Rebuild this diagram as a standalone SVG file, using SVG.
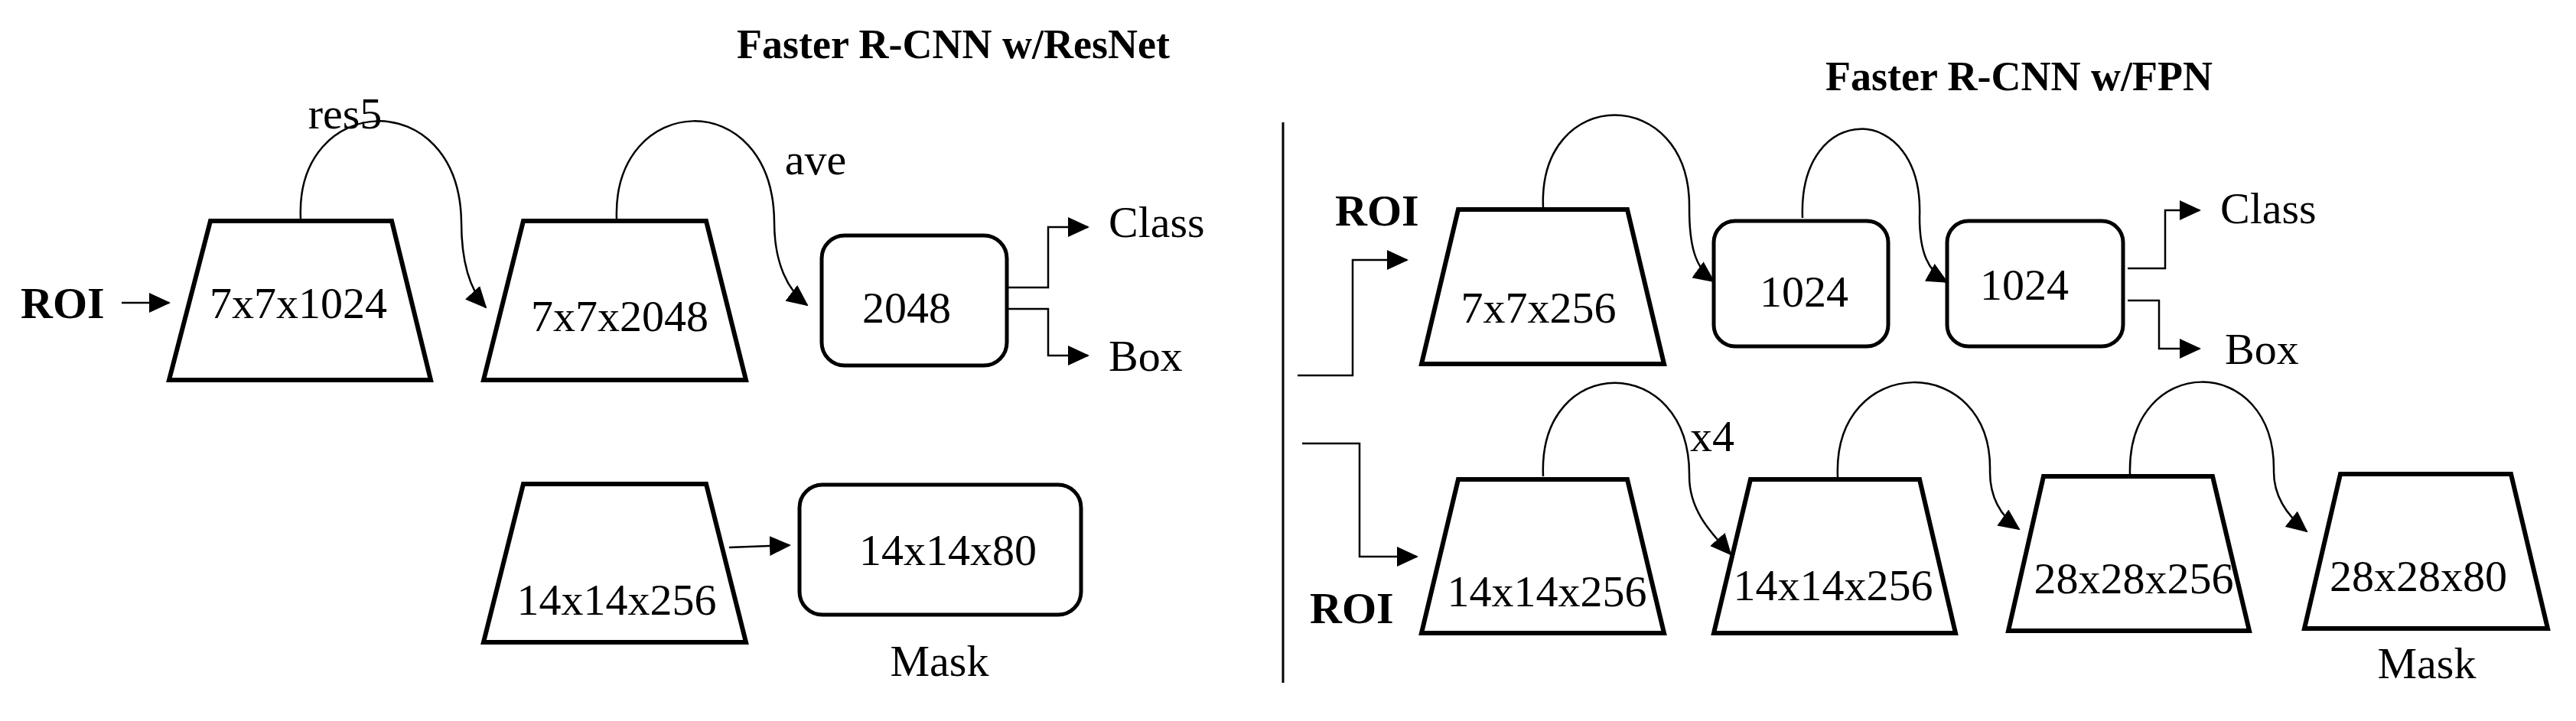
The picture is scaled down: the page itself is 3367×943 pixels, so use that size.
<svg xmlns="http://www.w3.org/2000/svg" width="3367" height="943" viewBox="0 0 3367 943">
<style>
text{font-family:"Liberation Serif","Times New Roman",serif;font-size:58px;fill:#000}
.b{font-weight:bold}
.t{font-weight:bold;font-size:54px}
.trap{fill:#fff;stroke:#000;stroke-width:6}
.box{fill:#fff;stroke:#000;stroke-width:5}
.c{fill:none;stroke:#000;stroke-width:2.5}
.a{fill:none;stroke:#000;stroke-width:2.5;marker-end:url(#ah)}
</style>
<defs>
<marker id="ah" markerUnits="userSpaceOnUse" markerWidth="28" markerHeight="26" refX="26" refY="13" orient="auto">
<path d="M0,0 L28,13 L0,26 Z" fill="#000"/>
</marker>
</defs>
<rect width="3367" height="943" fill="#fff"/>
<text class="t" x="1246" y="76" text-anchor="middle">Faster R-CNN w/ResNet</text>
<text class="t" x="2639" y="118" text-anchor="middle">Faster R-CNN w/FPN</text>
<line x1="1677" y1="160" x2="1677" y2="893" stroke="#000" stroke-width="3"/>
<g id="connectors">
<line class="a" x1="159" y1="396" x2="221" y2="396"/>
<path class="a" d="M393,287 C385,120 600,110 603,290 C603,345 615,380 635,402"/>
<path class="a" d="M806,287 C800,120 1010,110 1012,290 C1012,345 1030,380 1055,399"/>
<path class="a" d="M1316,376 H1370 V297 H1422"/>
<path class="a" d="M1316,404 H1370 V465 H1422"/>
<line class="a" x1="953" y1="716" x2="1032" y2="713"/>
<path class="a" d="M1696,491 H1768 V340 H1839"/>
<path class="a" d="M2017,272 C2010,110 2210,110 2208,272 C2208,320 2215,350 2240,368"/>
<path class="a" d="M2356,285 C2350,130 2515,130 2509,284 C2509,330 2520,355 2545,369"/>
<path class="a" d="M2781,351 H2830 V275 H2875"/>
<path class="a" d="M2781,393 H2822 V456 H2875"/>
<path class="a" d="M1702,580 H1777 V728 H1852"/>
<path class="a" d="M2017,623 C2010,460 2210,460 2208,623 C2208,670 2240,700 2262,725"/>
<path class="a" d="M2402,624 C2395,460 2605,460 2601,617 C2601,650 2615,675 2639,692"/>
<path class="a" d="M2784,620 C2780,460 2975,460 2972,617 C2972,650 2990,675 3015,695"/>
</g>
<g id="roi1"><text class="b" x="27" y="416">ROI</text></g>
<g id="n1"><polygon class="trap" points="275,289 512,289 563,497 221,497"/><text x="390" y="416" text-anchor="middle">7x7x1024</text></g>
<g id="res5"><text x="451" y="168" text-anchor="middle">res5</text></g>
<g id="n2"><polygon class="trap" points="684,289 923,289 975,497 632,497"/><text x="810" y="433" text-anchor="middle">7x7x2048</text></g>
<g id="ave"><text x="1066" y="228" text-anchor="middle">ave</text></g>
<g id="n3"><rect class="box" x="1074" y="308" width="242" height="170" rx="30"/><text x="1185" y="422" text-anchor="middle">2048</text></g>
<g id="cls1"><text x="1449" y="310">Class</text></g>
<g id="box1"><text x="1449" y="485">Box</text></g>
<g id="n4"><polygon class="trap" points="684,633 923,633 975,840 632,840"/><text x="806" y="804" text-anchor="middle">14x14x256</text></g>
<g id="n5"><rect class="box" x="1045" y="634" width="368" height="170" rx="30"/><text x="1239" y="739" text-anchor="middle">14x14x80</text></g>
<g id="mask1"><text x="1228" y="884" text-anchor="middle">Mask</text></g>
<g id="roi2"><text class="b" x="1745" y="295">ROI</text></g>
<g id="f1"><polygon class="trap" points="1906,274 2127,274 2175,476 1858,476"/><text x="2011" y="422" text-anchor="middle">7x7x256</text></g>
<g id="f2"><rect class="box" x="2240" y="289" width="228" height="164" rx="28"/><text x="2358" y="401" text-anchor="middle">1024</text></g>
<g id="f3"><rect class="box" x="2545" y="289" width="230" height="164" rx="28"/><text x="2646" y="392" text-anchor="middle">1024</text></g>
<g id="cls2"><text x="2902" y="292">Class</text></g>
<g id="box2"><text x="2908" y="476">Box</text></g>
<g id="roi3"><text class="b" x="1712" y="815">ROI</text></g>
<g id="f4"><polygon class="trap" points="1906,627 2127,627 2175,828 1858,828"/><text x="2022" y="793" text-anchor="middle">14x14x256</text></g>
<g id="x4"><text x="2238" y="590" text-anchor="middle">x4</text></g>
<g id="f5"><polygon class="trap" points="2288,627 2509,627 2556,828 2240,828"/><text x="2396" y="785" text-anchor="middle">14x14x256</text></g>
<g id="f6"><polygon class="trap" points="2671,623 2892,623 2940,825 2625,825"/><text x="2789" y="776" text-anchor="middle">28x28x256</text></g>
<g id="f7"><polygon class="trap" points="3059,620 3282,620 3330,822 3012,822"/><text x="3161" y="773" text-anchor="middle">28x28x80</text></g>
<g id="mask2"><text x="3172" y="887" text-anchor="middle">Mask</text></g>
</svg>
